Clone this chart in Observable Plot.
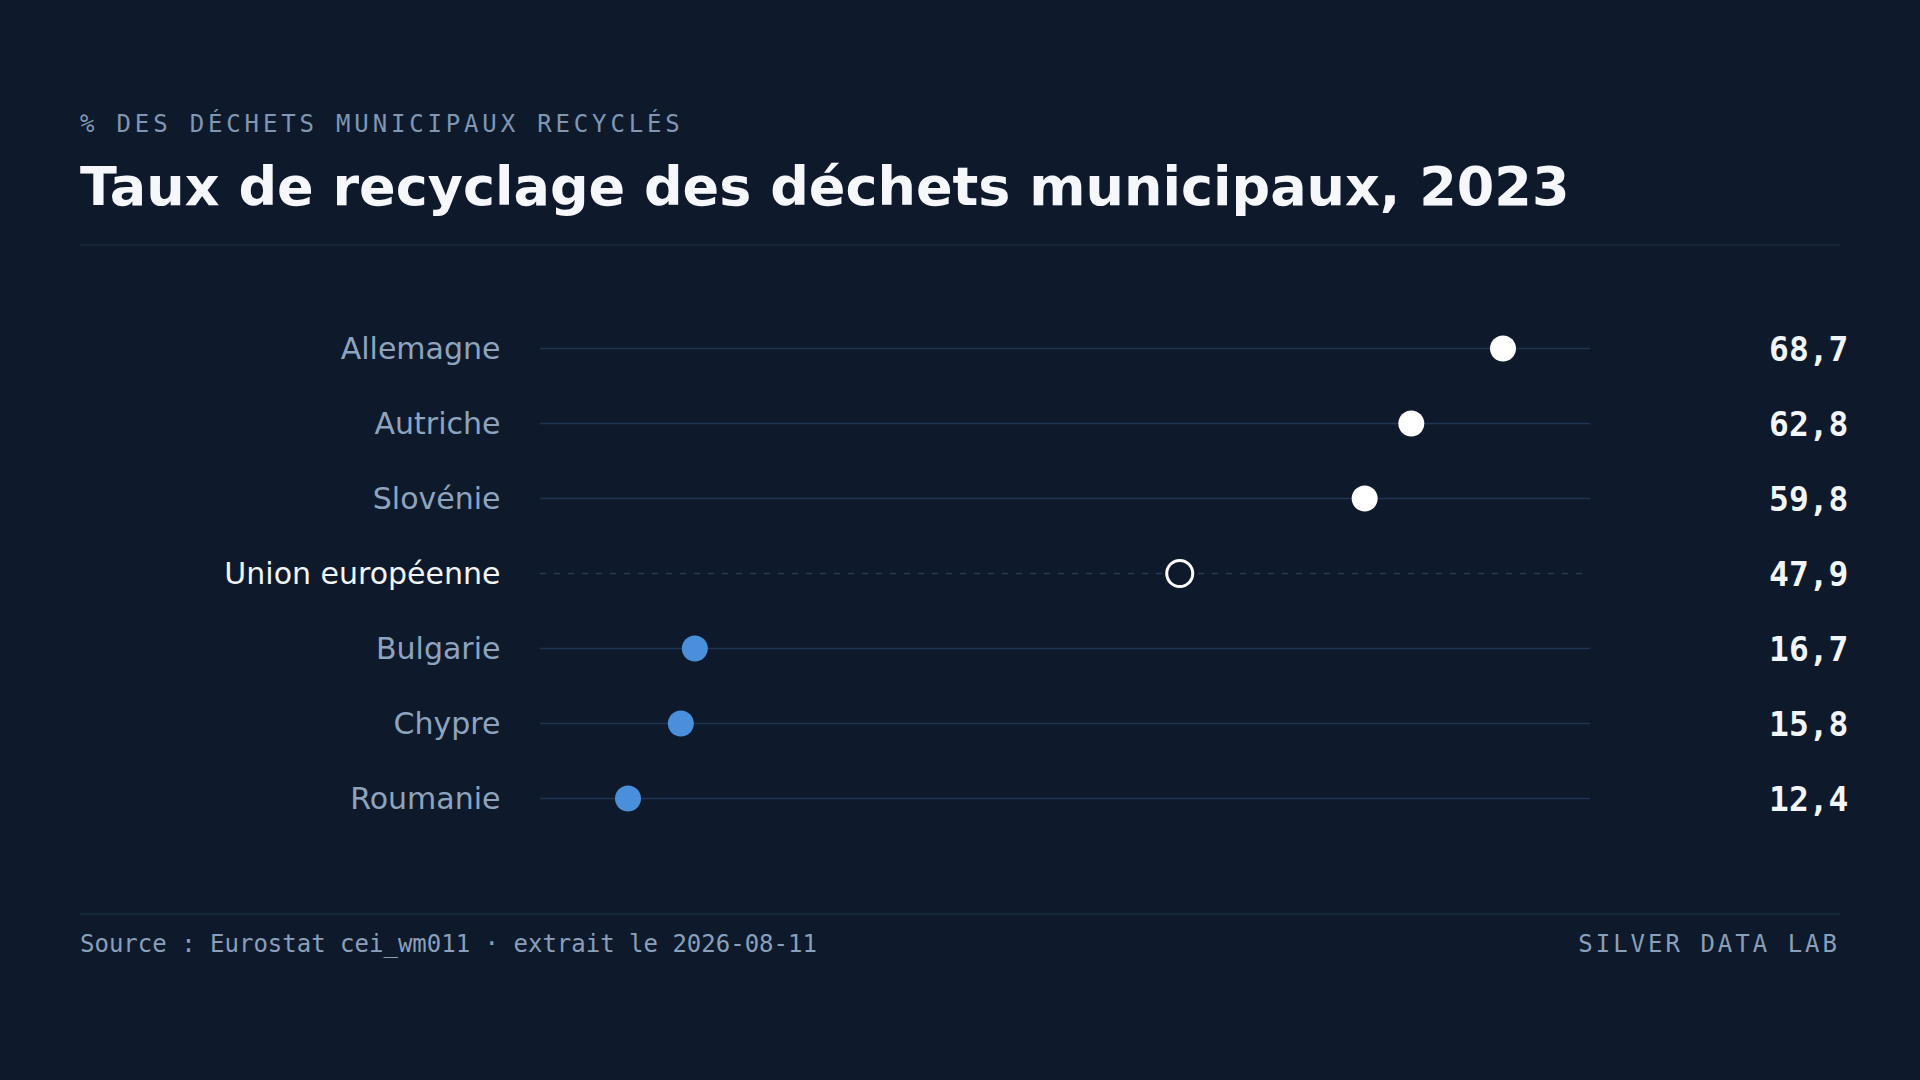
<!DOCTYPE html>
<html lang="fr">
<head>
<meta charset="utf-8">
<script src="https://cdn.jsdelivr.net/npm/d3@7"></script>
<script src="https://cdn.jsdelivr.net/npm/@observablehq/plot@0.6"></script>
<style>
  html, body { margin: 0; padding: 0; background: #0e1a2b; }
  #page { position: relative; width: 1920px; height: 1080px; background: #0e1a2b; overflow: hidden; }
  .abs { position: absolute; white-space: nowrap; }
  #kicker { left: 80px; top: 112px; font: 24px/24px "DejaVu Sans Mono", monospace; letter-spacing: 0.16em; color: #8096b2; }
  #title { left: 80px; top: 160px; font: bold 54px/54px "DejaVu Sans", sans-serif; color: #f5f7fa; }
  #rule1 { left: 80px; top: 244px; width: 1760px; height: 2px; background: #16263a; }
  #chart { left: 0; top: 250px; }
  #rule2 { left: 80px; top: 913px; width: 1760px; height: 2px; background: #16263a; }
  #source { left: 80px; top: 932px; font: 24px/24px "DejaVu Sans Mono", monospace; color: #8a9fba; }
  #brand { right: 80px; top: 932px; font: 24px/24px "DejaVu Sans Mono", monospace; letter-spacing: 0.125em; color: #8a9fba; }
</style>
</head>
<body>
<div id="page">
  <div id="kicker" class="abs">% DES DÉCHETS MUNICIPAUX RECYCLÉS</div>
  <div id="title" class="abs">Taux de recyclage des déchets municipaux, 2023</div>
  <div id="rule1" class="abs"></div>
  <div id="chart" class="abs"></div>
  <div id="rule2" class="abs"></div>
  <div id="source" class="abs">Source : Eurostat cei_wm011 · extrait le 2026-08-11</div>
  <div id="brand" class="abs">SILVER DATA LAB</div>
</div>
<script>
// ---- Data ----
const countries = ["Allemagne", "Autriche", "Slovénie", "Union européenne", "Bulgarie", "Chypre", "Roumanie"];
const values = [68.7, 62.8, 59.8, 47.9, 16.7, 15.8, 12.4];
const referenceName = "Union européenne";

// ---- Derived table ----
const refValue = values[countries.indexOf(referenceName)];
const rows = countries.map((name, i) => ({
  name,
  value: values[i],
  isRef: name === referenceName,
  above: values[i] >= refValue
}));
const vMin = d3.min(values), vMax = d3.max(values);
const pad = (vMax - vMin) * 0.1;
const fmt = v => v.toFixed(1).replace(".", ",");

const others = rows.filter(d => !d.isRef);
const ref = rows.filter(d => d.isRef);

const chart = Plot.plot({
  width: 1920,
  height: 650,
  marginLeft: 540,
  marginRight: 330,
  marginTop: 98,
  marginBottom: 102,
  style: { background: "transparent", overflow: "visible" },
  x: { domain: [vMin - pad, vMax + pad], axis: null },
  y: { type: "point", domain: countries, padding: 0, axis: null },
  marks: [
    Plot.ruleY(others, { y: "name", stroke: "#1f3452", strokeWidth: 1.6 }),
    Plot.ruleY(ref, { y: "name", stroke: "#263b58", strokeWidth: 1.6, strokeDasharray: "6,8" }),
    Plot.dot(others, {
      x: "value", y: "name", r: 13, stroke: null,
      fill: d => d.above ? "#ffffff" : "#4a8fd9"
    }),
    Plot.dot(ref, { x: "value", y: "name", r: 13, fill: "#0e1a2b", stroke: "#ffffff", strokeWidth: 3 }),
    Plot.text(rows, {
      y: "name", text: "name", frameAnchor: "left", dx: -40, dy: 1, textAnchor: "end",
      fontFamily: "DejaVu Sans", fontSize: 30,
      fill: d => d.isRef ? "#f2f5f9" : "#8ea3be"
    }),
    Plot.text(rows, {
      y: "name", text: d => fmt(d.value), frameAnchor: "right", dx: 258, dy: 2, textAnchor: "end",
      fontFamily: "DejaVu Sans Mono", fontWeight: "bold", fontSize: 33, fill: "#f2f5f9"
    })
  ]
});
document.getElementById("chart").appendChild(chart);
</script>
</body>
</html>
